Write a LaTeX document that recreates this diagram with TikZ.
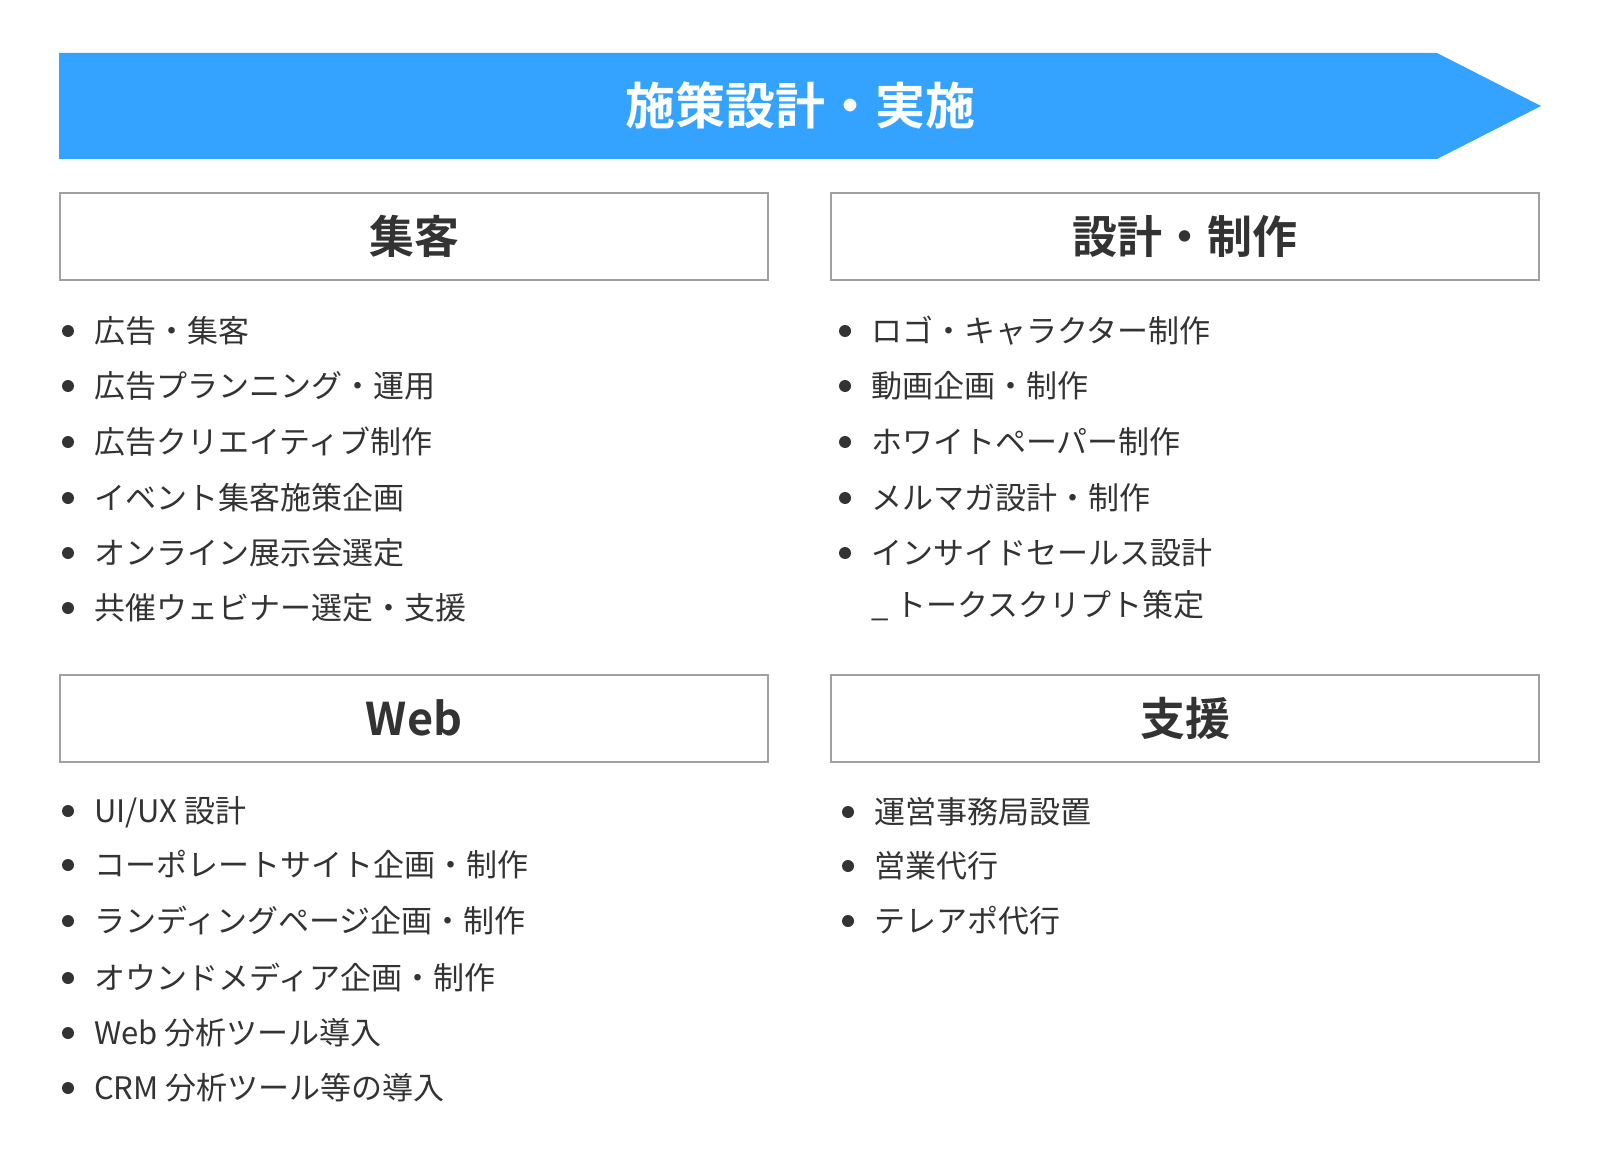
\documentclass[tikz,border=0pt]{standalone}
\usepackage{fontspec}
\setmainfont{Noto Sans CJK JP}[BoldFont={Noto Sans CJK JP Bold}]
\usepackage{tikz}
\usetikzlibrary{positioning}
\usepackage{xcolor}
\definecolor{bannerblue}{RGB}{51,163,255}
\definecolor{textgray}{RGB}{51,51,51}
\definecolor{framegray}{RGB}{160,160,160}
\tikzstyle{heading} = [rectangle, minimum width=708pt, minimum height=87pt, text centered, draw=framegray, line width=2pt, fill=white, text=textgray, font=\fontsize{45}{54}\selectfont\bfseries, text height=37.8pt, text depth=3.6pt]
\tikzstyle{item} = [anchor=west, inner sep=0pt, text=textgray, font=\fontsize{31}{37}\selectfont, text height=26pt, text depth=2.5pt]
\tikzstyle{dot} = [circle, fill=textgray, inner sep=0pt, minimum size=12pt]

\begin{document}
\begin{tikzpicture}[x=1pt, y=-1pt]
\useasboundingbox (0,0) rectangle (1600,1158);

% Banner
\fill[bannerblue] (59,53) -- (1437,53) -- (1541,106) -- (1437,159) -- (59,159) -- cycle;
\node (banner) [text=white, font=\fontsize{50}{60}\selectfont\bfseries, text height=42pt, text depth=4pt] at (800,106) {施策設計・実施};

% Heading boxes
\node (shukyaku) [heading] at (414,236.5) {集客};
\node (seisaku) [heading] at (1185,236.5) {設計・制作};
\node (web) [heading] at (414,718.5) {Web};
\node (shien) [heading] at (1185,718.5) {支援};

% Shukyaku list
\node (sd1) [dot] at (68,331) {};
\node (s1) [item] at (94,331) {広告・集客};
\node (sd2) [dot] at (68,386) {};
\node (s2) [item] at (94,386) {広告プランニング・運用};
\node (sd3) [dot] at (68,442) {};
\node (s3) [item] at (94,442) {広告クリエイティブ制作};
\node (sd4) [dot] at (68,498) {};
\node (s4) [item] at (94,498) {イベント集客施策企画};
\node (sd5) [dot] at (68,553) {};
\node (s5) [item] at (94,553) {オンライン展示会選定};
\node (sd6) [dot] at (68,608) {};
\node (s6) [item] at (94,608) {共催ウェビナー選定・支援};

% Seisaku list
\node (pd1) [dot] at (845,331) {};
\node (p1) [item] at (871,331) {ロゴ・キャラクター制作};
\node (pd2) [dot] at (845,386) {};
\node (p2) [item] at (871,386) {動画企画・制作};
\node (pd3) [dot] at (845,442) {};
\node (p3) [item] at (871,442) {ホワイトペーパー制作};
\node (pd4) [dot] at (845,498) {};
\node (p4) [item] at (871,498) {メルマガ設計・制作};
\node (pd5) [dot] at (845,553) {};
\node (p5) [item] at (871,553) {インサイドセールス設計};
\node (p6) [item] at (871,605) {\_ トークスクリプト策定};

% Web list
\node (wd1) [dot] at (68,811) {};
\node (w1) [item] at (94,811) {UI/UX 設計};
\node (wd2) [dot] at (68,865) {};
\node (w2) [item] at (94,865) {コーポレートサイト企画・制作};
\node (wd3) [dot] at (68,921) {};
\node (w3) [item] at (94,921) {ランディングページ企画・制作};
\node (wd4) [dot] at (68,978) {};
\node (w4) [item] at (94,978) {オウンドメディア企画・制作};
\node (wd5) [dot] at (68,1033) {};
\node (w5) [item] at (94,1033) {Web 分析ツール導入};
\node (wd6) [dot] at (68,1088) {};
\node (w6) [item] at (94,1088) {CRM 分析ツール等の導入};

% Shien list
\node (hd1) [dot] at (848,812) {};
\node (h1) [item] at (874,812) {運営事務局設置};
\node (hd2) [dot] at (848,866) {};
\node (h2) [item] at (874,866) {営業代行};
\node (hd3) [dot] at (848,921) {};
\node (h3) [item] at (874,921) {テレアポ代行};
\end{tikzpicture}
\end{document}
